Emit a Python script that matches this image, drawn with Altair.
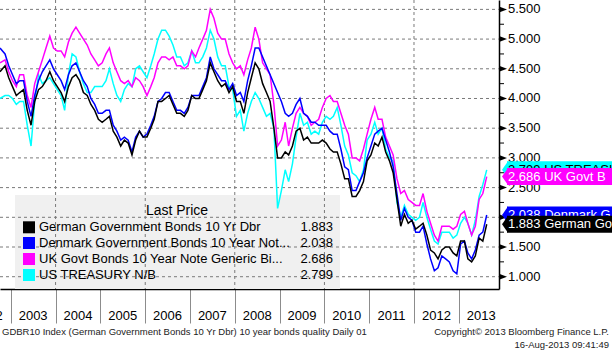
import altair as alt
import pandas as pd

FONT = "Liberation Sans"

# ---------------- data (monthly readings, Oct 2002 .. 16 Aug 2013) ----------------
dates = (["2002-10-05"]
         + [f"{y}-{m:02d}-15" for y in range(2002, 2014) for m in range(1, 13)
            if (2002, 11) <= (y, m) <= (2013, 7)]
         + ["2013-08-16"])

germany = [4.45, 4.55, 4.35,
           4.20, 4.05, 4.10, 4.15, 3.80, 3.55, 3.95, 4.15, 4.20, 4.30, 4.45, 4.30,
           4.20, 4.10, 3.95, 4.20, 4.35, 4.40, 4.30, 4.10, 4.05, 3.90, 3.80, 3.65,
           3.60, 3.65, 3.70, 3.45, 3.35, 3.20, 3.30, 3.25, 3.05, 3.30, 3.45, 3.35,
           3.35, 3.50, 3.65, 3.95, 3.95, 4.00, 4.05, 3.90, 3.75, 3.75, 3.70, 3.80,
           4.05, 4.00, 4.00, 4.15, 4.30, 4.60, 4.45, 4.30, 4.20, 4.25, 4.10, 4.20,
           3.95, 3.95, 3.75, 4.10, 4.35, 4.60, 4.50, 4.25, 4.10, 3.95, 3.50, 3.00,
           3.00, 3.10, 3.05, 3.20, 3.45, 3.50, 3.30, 3.35, 3.25, 3.25, 3.25, 3.30,
           3.25, 3.15, 3.10, 3.10, 2.90, 2.65, 2.65, 2.35, 2.35, 2.45, 2.60, 2.95,
           3.05, 3.25, 3.20, 3.35, 3.10, 2.95, 2.75, 2.30, 1.85, 2.05, 1.90, 1.95,
           1.80, 1.85, 1.90, 1.70, 1.45, 1.40, 1.30, 1.45, 1.50, 1.50, 1.40, 1.35,
           1.60, 1.60, 1.30, 1.25, 1.35, 1.65, 1.60, 1.883]

denmark = [4.85, 4.75, 4.55,
           4.40, 4.25, 4.30, 4.30, 3.95, 3.70, 4.05, 4.30, 4.45, 4.55, 4.65, 4.50,
           4.40, 4.30, 4.15, 4.40, 4.55, 4.60, 4.45, 4.30, 4.20, 4.00, 3.90, 3.75,
           3.75, 3.80, 3.80, 3.55, 3.45, 3.30, 3.35, 3.30, 3.10, 3.35, 3.45, 3.35,
           3.40, 3.55, 3.70, 3.95, 4.00, 4.10, 4.10, 3.95, 3.80, 3.80, 3.75, 3.85,
           4.05, 4.05, 4.05, 4.20, 4.35, 4.70, 4.50, 4.40, 4.30, 4.30, 4.15, 4.25,
           4.05, 4.10, 3.95, 4.30, 4.55, 4.85, 4.85, None, None, None, None, None,
           3.95, 3.75, 3.70, 3.75, 3.90, 4.00, 3.75, 3.70, 3.60, 3.60, 3.55, 3.55,
           3.55, 3.45, 3.40, 3.40, 3.15, 2.85, 2.80, 2.45, 2.45, 2.60, 2.75, 3.00,
           3.20, 3.40, 3.45, 3.50, 3.30, 3.10, 2.85, 2.40, 1.95, 2.15, 2.00, 1.95,
           1.75, 1.75, 1.85, 1.55, 1.30, 1.10, 1.15, 1.35, 1.30, 1.25, 1.10, 1.05,
           1.55, 1.60, 1.40, 1.30, 1.45, 1.70, 1.75, 2.038]

uk = [4.60, 4.65, 4.45,
      4.30, 4.20, 4.40, 4.40, 4.05, 3.85, 4.25, 4.45, 4.65, 4.85, 5.05, 4.85,
      4.80, 4.80, 4.70, 4.95, 5.10, 5.20, 5.10, 5.00, 4.90, 4.75, 4.65, 4.55,
      4.60, 4.75, 4.85, 4.60, 4.45, 4.30, 4.25, 4.30, 4.20, 4.35, 4.30, 4.20,
      4.05, 4.20, 4.35, 4.60, 4.70, 4.70, 4.65, 4.70, 4.55, 4.55, 4.50, 4.55,
      4.80, 4.70, 4.85, 5.00, 5.15, 5.50, 5.35, 5.10, 5.00, 5.00, 4.75, 4.60,
      4.50, 4.55, 4.40, 4.65, 4.85, 5.20, 5.00, 4.60, 4.50, 4.40, 3.90, 3.20,
      3.30, 3.60, 3.20, 3.50, 3.75, 3.85, 3.75, 3.70, 3.55, 3.60, 3.65, 3.85,
      4.00, 4.05, 3.95, 3.95, 3.75, 3.55, 3.40, 3.00, 3.00, 2.95, 3.15, 3.40,
      3.65, 3.85, 3.65, 3.65, 3.35, 3.20, 3.05, 2.65, 2.40, 2.45, 2.30, 2.25,
      2.20, 2.20, 2.40, 2.10, 1.90, 1.70, 1.60, 1.85, 1.85, 1.85, 1.80, 1.85,
      2.05, 2.10, 1.90, 1.70, 1.85, 2.30, 2.40, 2.686]

us = [4.00, 4.05, 4.05,
      4.00, 3.90, 3.95, 3.95, 3.55, 3.20, 3.95, 4.40, 4.25, 4.30, 4.35, 4.25,
      4.15, 4.05, 3.80, 4.40, 4.75, 4.70, 4.45, 4.25, 4.10, 4.10, 4.20, 4.20,
      4.20, 4.30, 4.50, 4.25, 4.05, 3.95, 4.15, 4.25, 4.20, 4.50, 4.55, 4.45,
      4.35, 4.55, 4.75, 5.00, 5.15, 5.15, 5.05, 4.90, 4.70, 4.70, 4.55, 4.60,
      4.80, 4.60, 4.60, 4.70, 4.85, 5.15, 5.00, 4.70, 4.55, 4.55, 4.20, 4.15,
      3.70, 3.80, 3.45, 3.75, 3.95, 4.10, 4.00, 3.85, 3.70, 3.75, 3.50, 2.15,
      2.45, 2.80, 2.60, 2.90, 3.35, 3.75, 3.55, 3.60, 3.40, 3.45, 3.40, 3.60,
      3.70, 3.65, 3.70, 3.85, 3.55, 3.20, 3.05, 2.75, 2.70, 2.60, 2.80, 3.30,
      3.40, 3.60, 3.40, 3.50, 3.15, 3.00, 2.95, 2.25, 2.00, 2.20, 2.05, 2.00,
      1.95, 2.00, 2.25, 2.00, 1.80, 1.60, 1.55, 1.75, 1.75, 1.75, 1.65, 1.70,
      1.90, 2.00, 1.90, 1.70, 1.95, 2.35, 2.55, 2.799]

series_names = ["German Government Bonds 10 Yr Dbr",
                "Denmark Government Bonds 10 Year Not...",
                "UK Govt Bonds 10 Year Note Generic Bi...",
                "US TREASURY N/B"]
short_names = ["German Go", "Denmark G", "UK Govt B", "US TREASU"]
colors = ["#000000", "#0000ff", "#ff00ff", "#00ffff"]
label_text_colors = ["white", "white", "white", "black"]

y_ticks = [1.0, 1.5, 2.0, 2.5, 3.0, 3.5, 4.0, 4.5, 5.0, 5.5]
y_minor = [1.25, 1.75, 2.25, 2.75, 3.25, 3.75, 4.25, 4.75, 5.25]
year_labels = [str(y) for y in range(2002, 2014)]
grid_years = [2004, 2006, 2008, 2010, 2012]

footer_left = "GDBR10 Index (German Government Bonds 10 Yr Dbr) 10 year bonds quality  Daily 01"
footer_right1 = "Copyright\u00a9 2013 Bloomberg Finance L.P."
footer_right2 = "16-Aug-2013 09:41:49"

all_values = [germany, denmark, uk, us]

# ---------------- scales ----------------
W, H = 499, 289
xscale = alt.Scale(type="utc",
                   domain=[alt.DateTime(year=2002, month=10, date=5, utc=True),
                           alt.DateTime(year=2013, month=11, date=24, utc=True)])
yscale = alt.Scale(domain=[0.793, 5.658], nice=False, zero=False)

xaxis = alt.Axis(values=[alt.DateTime(year=y, month=1, date=1, utc=True) for y in range(2003, 2014)],
                 labels=False, tickSize=34, tickColor="#8c8c8c", tickWidth=1,
                 domainColor="black", domainWidth=1.5, grid=False, title=None)
yaxis = alt.Axis(orient="right", labels=False, ticks=False, grid=False,
                 domainColor="black", domainWidth=1.5, title=None)

X = alt.X("date:T", scale=xscale, axis=xaxis)
Y = alt.Y("value:Q", scale=yscale, axis=yaxis)

one = pd.DataFrame({"a": [0]})
layers = []

# legend background
layers.append(alt.Chart(one).mark_rect(color="#f0f0f0").encode(
    x=alt.value(15), x2=alt.value(340), y=alt.value(195), y2=alt.value(H)))

# grid lines
hgrid = pd.DataFrame({"value": y_ticks})
layers.append(alt.Chart(hgrid).mark_rule(color="#7a7a7a", strokeDash=[3, 3], strokeWidth=1).encode(
    y=Y, x=alt.value(0), x2=alt.value(W)))
vgrid = pd.DataFrame({"date": [f"{y}-01-01" for y in grid_years]})
layers.append(alt.Chart(vgrid).mark_rule(color="#7a7a7a", strokeDash=[3, 3], strokeWidth=1).encode(
    x=X, y=alt.value(0), y2=alt.value(H)))

# series lines
for name, vals, col in list(zip(series_names, all_values, colors))[::-1]:
    d = pd.DataFrame({"date": dates, "value": vals}).dropna()
    layers.append(alt.Chart(d).mark_line(color=col, strokeWidth=1.5).encode(x=X, y=Y))

# y tick labels, major triangles, minor ticks
ylab = pd.DataFrame({"value": y_ticks, "label": [f"{v:.3f}" for v in y_ticks]})
layers.append(alt.Chart(ylab).mark_text(align="left", baseline="middle", font=FONT,
                                        fontSize=13, color="black").encode(
    y=Y, x=alt.value(508), text="label:N"))
layers.append(alt.Chart(ylab).mark_point(shape="M-1,-0.75L1,0L-1,0.75Z", filled=True,
                                         size=64, color="black", opacity=1).encode(
    y=Y, x=alt.value(503)))
layers.append(alt.Chart(pd.DataFrame({"value": y_minor})).mark_rule(color="black", strokeWidth=1).encode(
    y=Y, x=alt.value(499), x2=alt.value(504)))

# year labels (centred in each year)
yl = pd.DataFrame({"date": [f"{y}-07-02" for y in year_labels], "label": year_labels})
layers.append(alt.Chart(yl).mark_text(align="center", baseline="middle", font=FONT,
                                      fontSize=13, color="black").encode(
    x=X, y=alt.value(316), text="label:N"))

# legend
layers.append(alt.Chart(one).mark_text(text="Last Price", align="center", baseline="middle",
                                       font=FONT, fontSize=14, color="black").encode(
    x=alt.value(177), y=alt.value(211)))
row_y = [227.3, 243, 259, 275]
for name, vals, col, ry in zip(series_names, all_values, colors, row_y):
    layers.append(alt.Chart(one).mark_square(color=col, size=144, opacity=1).encode(
        x=alt.value(29), y=alt.value(ry)))
    layers.append(alt.Chart(one).mark_text(text=name, align="left", baseline="middle",
                                           font=FONT, fontSize=13, color="black").encode(
        x=alt.value(39), y=alt.value(ry)))
    layers.append(alt.Chart(one).mark_text(text=f"{vals[-1]:.3f}", align="right", baseline="middle",
                                           font=FONT, fontSize=13, color="black").encode(
        x=alt.value(333), y=alt.value(ry)))

# last-value tags on the right axis (drawn cyan, blue, then magenta, black on top)
for idx in [3, 1, 2, 0]:
    v = all_values[idx][-1]
    d = pd.DataFrame({"value": [v], "label": [f"{v:.3f} {short_names[idx]}"]})
    layers.append(alt.Chart(d).mark_rule(color=colors[idx], strokeWidth=17, strokeCap="butt").encode(
        y=Y, x=alt.value(507), x2=alt.value(612)))
    layers.append(alt.Chart(d).mark_point(shape="M-0.35,0L0.35,-1L0.35,1Z", filled=True,
                                          size=289, color=colors[idx], opacity=1).encode(
        y=Y, x=alt.value(505)))
    layers.append(alt.Chart(d).mark_text(align="left", baseline="middle", font=FONT,
                                         fontSize=13, color=label_text_colors[idx]).encode(
        y=Y, x=alt.value(508), text="label:N"))

# footer
layers.append(alt.Chart(one).mark_text(text=footer_left, align="left", baseline="middle",
                                       font=FONT, fontSize=9.5, color="#222222").encode(
    x=alt.value(2), y=alt.value(332)))
layers.append(alt.Chart(one).mark_text(text=footer_right1, align="right", baseline="middle",
                                       font=FONT, fontSize=9.5, color="#222222").encode(
    x=alt.value(609), y=alt.value(332)))
layers.append(alt.Chart(one).mark_text(text=footer_right2, align="right", baseline="middle",
                                       font=FONT, fontSize=9.5, color="#222222").encode(
    x=alt.value(609), y=alt.value(345)))

chart = alt.layer(*layers).properties(
    width=W, height=H,
    autosize=alt.AutoSizeParams(type="none"),
    padding={"left": 0, "top": 0, "right": 113, "bottom": 63},
    background="white",
).configure_view(stroke=None)

chart.save("out.html", embed_options={"renderer": "svg", "actions": False})
